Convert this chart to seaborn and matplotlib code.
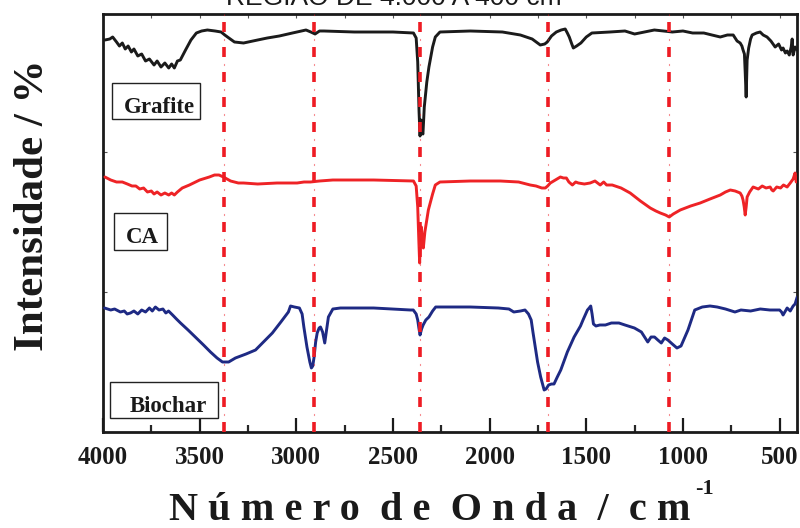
import matplotlib
matplotlib.use("Agg")
import matplotlib.pyplot as plt
import seaborn as sns
import pandas as pd
from matplotlib.patches import Rectangle

sns.set_theme(style="white")
plt.rcParams["font.family"] = ["Liberation Serif", "DejaVu Serif"]
plt.rcParams["font.weight"] = "bold"
plt.rcParams["lines.scale_dashes"] = False

# ---------------- data (wavenumber cm-1, plotted intensity with offsets) -------------
grafite_wn = [3990, 3965, 3950, 3930, 3915, 3900, 3885, 3870, 3853, 3840, 3820, 3800, 3780, 3760,
              3736, 3720, 3700, 3680, 3660, 3645, 3631, 3615, 3600, 3573, 3545, 3517, 3490, 3460,
              3420, 3389, 3370, 3356, 3320, 3273, 3200, 3150, 3088, 3020, 2950, 2925, 2903, 2880,
              2857, 2700, 2500, 2394, 2380, 2372, 2365, 2360, 2355, 2350, 2345, 2338, 2325, 2314,
              2295, 2281, 2257, 2100, 1934, 1841, 1780, 1738, 1715, 1702, 1680, 1655, 1630, 1609,
              1598, 1588, 1575, 1567, 1550, 1528, 1500, 1471, 1378, 1300, 1250, 1148, 1100, 1055,
              1000, 950, 892, 850, 807, 770, 740, 720, 704, 695, 689, 682, 678, 673, 668, 660, 650,
              642, 620, 601, 585, 565, 545, 523, 505, 490, 482, 470, 461, 450, 440, 435, 430, 420,
              409]
grafite_y = [392, 393, 395, 390, 386, 389, 383, 386, 380, 383, 376, 378, 371, 373,
             367, 371, 365, 369, 364, 368, 364, 371, 372, 382, 392, 399, 401, 402,
             401, 400, 397, 395, 390, 389, 392, 394, 396, 399, 402, 400, 398, 401,
             401, 400, 400, 399, 394, 370, 320, 296, 312, 300, 298, 325, 350, 365,
             385, 395, 400, 401, 400, 397, 393, 387, 388, 390, 396, 400, 402, 403,
             399, 395, 388, 384, 386, 389, 395, 399, 400, 401, 398, 402, 401, 400,
             401, 399, 399, 397, 395, 397, 397, 391, 389, 386, 382, 378, 360, 335, 372, 384, 393,
             397, 399, 400, 397, 395, 391, 385, 388, 382, 384, 379, 381, 377, 385, 393, 377, 385,
             382]

ca_wn = [3990, 3960, 3930, 3900, 3874, 3850, 3830, 3810, 3790, 3770, 3750, 3736, 3720, 3700, 3680,
         3660, 3645, 3631, 3615, 3590, 3553, 3500, 3450, 3423, 3400, 3377, 3340, 3300, 3273, 3200,
         3100, 2996, 2960, 2927, 2880, 2811, 2600, 2394, 2380, 2372, 2366, 2362, 2357, 2353, 2348,
         2343, 2335, 2317, 2295, 2281, 2257, 2100, 1945, 1850, 1790, 1760, 1730, 1712, 1700, 1686,
         1660, 1634, 1618, 1603, 1590, 1572, 1555, 1541, 1510, 1480, 1455, 1428, 1410, 1395, 1366,
         1320, 1273, 1220, 1169, 1140, 1117, 1090, 1071, 1050, 1014, 960, 911, 860, 807, 780, 755,
         730, 704, 695, 689, 683, 678, 673, 668, 655, 637, 610, 590, 570, 549, 540, 533, 515, 495,
         480, 461, 445, 430, 420, 414, 409]
ca_y = [255, 252, 250, 250, 248, 246, 246, 243, 244, 240, 241, 238, 240, 237, 239,
        237, 239, 237, 240, 244, 247, 252, 255, 257, 257, 255, 251, 249, 249, 248,
        249, 249, 250, 250, 251, 252, 252, 251, 246, 225, 190, 169, 200, 205, 190,
        184, 200, 222, 238, 247, 250, 251, 251, 250, 247, 246, 244, 244, 246, 249,
        252, 255, 254, 254, 250, 247, 250, 249, 248, 249, 251, 247, 250, 247, 247,
        244, 239, 231, 224, 221, 219, 217, 215, 218, 222, 226, 229, 233, 237, 240, 242,
        241, 239, 236, 232, 225, 217, 225, 235, 240, 245, 243, 246, 244, 245, 242, 241, 245, 244,
        247, 245, 249, 253, 259, 250, 253]

biochar_wn = [3992, 3960, 3940, 3910, 3890, 3875, 3858, 3840, 3820, 3800, 3780, 3760, 3745, 3729,
              3710, 3690, 3675, 3661, 3640, 3620, 3599, 3560, 3517, 3480, 3444, 3410, 3382, 3350,
              3315, 3260, 3211, 3170, 3124, 3080, 3041, 3030, 3010, 2984, 2970, 2961, 2945, 2930,
              2922, 2915, 2908, 2900, 2892, 2882, 2875, 2864, 2853, 2845, 2834, 2811, 2772, 2600,
              2410, 2395, 2380, 2372, 2366, 2360, 2352, 2344, 2330, 2314, 2295, 2279, 2100, 1955,
              1900, 1875, 1840, 1817, 1799, 1785, 1776, 1764, 1752, 1736, 1718, 1708, 1695, 1680,
              1667, 1650, 1632, 1598, 1563, 1530, 1517, 1494, 1485, 1477, 1470, 1463, 1450, 1430,
              1401, 1370, 1331, 1300, 1251, 1215, 1182, 1165, 1147, 1130, 1112, 1095, 1078, 1055,
              1031, 1010, 990, 974, 955, 939, 900, 860, 823, 780, 731, 700, 650, 600, 550, 500,
              490, 482, 470, 461, 445, 430, 420, 409]
biochar_y = [124, 122, 123, 120, 121, 118, 119, 121, 118, 122, 120, 124, 121, 125,
             122, 123, 119, 121, 117, 113, 109, 102, 94, 87, 80, 74, 70, 70,
             74, 78, 82, 90, 99, 110, 120, 126, 125, 124, 118, 105, 85, 70,
             64, 66, 75, 90, 99, 104, 105, 100, 89, 100, 115, 123, 124, 124,
             122, 122, 118, 112, 104, 97, 103, 107, 112, 115, 121, 125, 125, 124,
             123, 120, 121, 122, 118, 112, 100, 85, 70, 55, 42, 43, 47, 48,
             48, 55, 62, 80, 95, 106, 112, 122, 124, 126, 118, 108, 106, 107,
             107, 109, 109, 107, 104, 100, 90, 95, 95, 92, 89, 94, 92, 88,
             84, 86, 95, 102, 113, 122, 125, 126, 125, 123, 120, 122, 121, 123, 122, 122,
             120, 117, 121, 124, 121, 126, 128, 135]

band_positions = [3375, 2910, 2358, 1697, 1071]
xtick_values = [4000, 3500, 3000, 2500, 2000, 1500, 1000, 500]
series_names = ["Grafite", "CA", "Biochar"]
series_colors = ["#1b1b1b", "#ee2326", "#1e2a84"]

frames = []
for name, wn, yy in [("Grafite", grafite_wn, grafite_y), ("CA", ca_wn, ca_y),
                     ("Biochar", biochar_wn, biochar_y)]:
    frames.append(pd.DataFrame({"wn": wn, "y": yy, "amostra": name}))
df = pd.concat(frames, ignore_index=True)

# ---------------- figure ----------------
fig = plt.figure(figsize=(8, 5.28), dpi=100)
ax = fig.add_axes([103 / 800, 1 - 432 / 528, 694 / 800, 418 / 528])

for name, col in zip(series_names, series_colors):
    sub = df[df["amostra"] == name]
    sns.lineplot(data=sub, x="wn", y="y", ax=ax, color=col, lw=2.1, sort=False,
                 estimator=None, legend=False, zorder=3)

for b in band_positions:
    ax.axvline(b, color="#ee1c24", lw=2.6, linestyle=(0, (7.2, 10.8)), zorder=4)
    ax.axvline(b, color="#ee1c24", lw=0.8, alpha=0.5, linestyle=(6.15, (1.5, 16.5)), zorder=4)

ax.set_xlim(4000, 410)
ax.set_ylim(0, 418)
ax.set_xlabel("")
ax.set_ylabel("")

ax.set_xticks(xtick_values)
ax.set_xticks([3750, 3250, 2750, 2250, 1750, 1250, 750], minor=True)
ax.set_xticklabels([str(v) for v in xtick_values], fontsize=18, fontweight="bold")
ax.tick_params(axis="x", which="major", direction="in", length=10, width=1.6,
               bottom=True, top=False, pad=10, colors="#1a1a1a")
ax.tick_params(axis="x", which="minor", direction="in", length=5, width=1.6,
               bottom=True, top=False)
ax.set_yticks([140, 280])
ax.set_yticklabels([])
ax.tick_params(axis="y", which="major", direction="in", length=3, width=0.8,
               left=True, right=True, colors="#555555")

sec = ax.secondary_xaxis("top")
sec.set_xticks([3750, 3500, 3250, 3000, 2750, 2500, 2250, 2000, 1750, 1500, 1250, 1000, 750, 500])
sec.set_xticklabels([])
sec.tick_params(direction="in", length=3, width=0.8, colors="#555555")
sec.spines["top"].set_visible(False)

for sp in ax.spines.values():
    sp.set_visible(True)
    sp.set_linewidth(2.0)
    sp.set_color("#1a1a1a")

# sample label boxes
boxes = [("Grafite", 0.013, 0.7488, 0.1268, 0.0862, 0.0807, 0.763),
         ("CA", 0.0159, 0.4354, 0.0763, 0.0886, 0.0567, 0.452),
         ("Biochar", 0.0101, 0.0335, 0.1563, 0.0861, 0.0937, 0.0478)]
for txt, bx, by, bw, bh, tx, ty in boxes:
    ax.add_patch(Rectangle((bx, by), bw, bh, transform=ax.transAxes, facecolor="white",
                           edgecolor="#222222", lw=1.0, zorder=5))
    ax.text(tx, ty, txt, transform=ax.transAxes, ha="center", va="baseline",
            fontsize=16.5, fontweight="bold", color="#1a1a1a", zorder=6)

# axis titles
fig.text(0.041, 0.612, "Intensidade / %", rotation=90, ha="center", va="center",
         fontsize=31, fontweight="bold", color="#1a1a1a")
fig.text(0.5375, 0.034, "N ú m e r o  d e  O n d a  /  c m", ha="center", va="center",
         fontsize=29, fontweight="bold", color="#1a1a1a")
fig.text(0.881, 0.074, "-1", ha="center", va="center", fontsize=16,
         fontweight="bold", color="#1a1a1a")

# partially cut title at the top
fig.text(0.4925, 0.9905, "REGIÃO DE 4.000 A 400 cm", ha="center", va="baseline",
         fontsize=19, fontweight="normal", color="#1a1a1a",
         family=["Liberation Sans", "DejaVu Sans"])

fig.savefig("out.png", dpi=100)
